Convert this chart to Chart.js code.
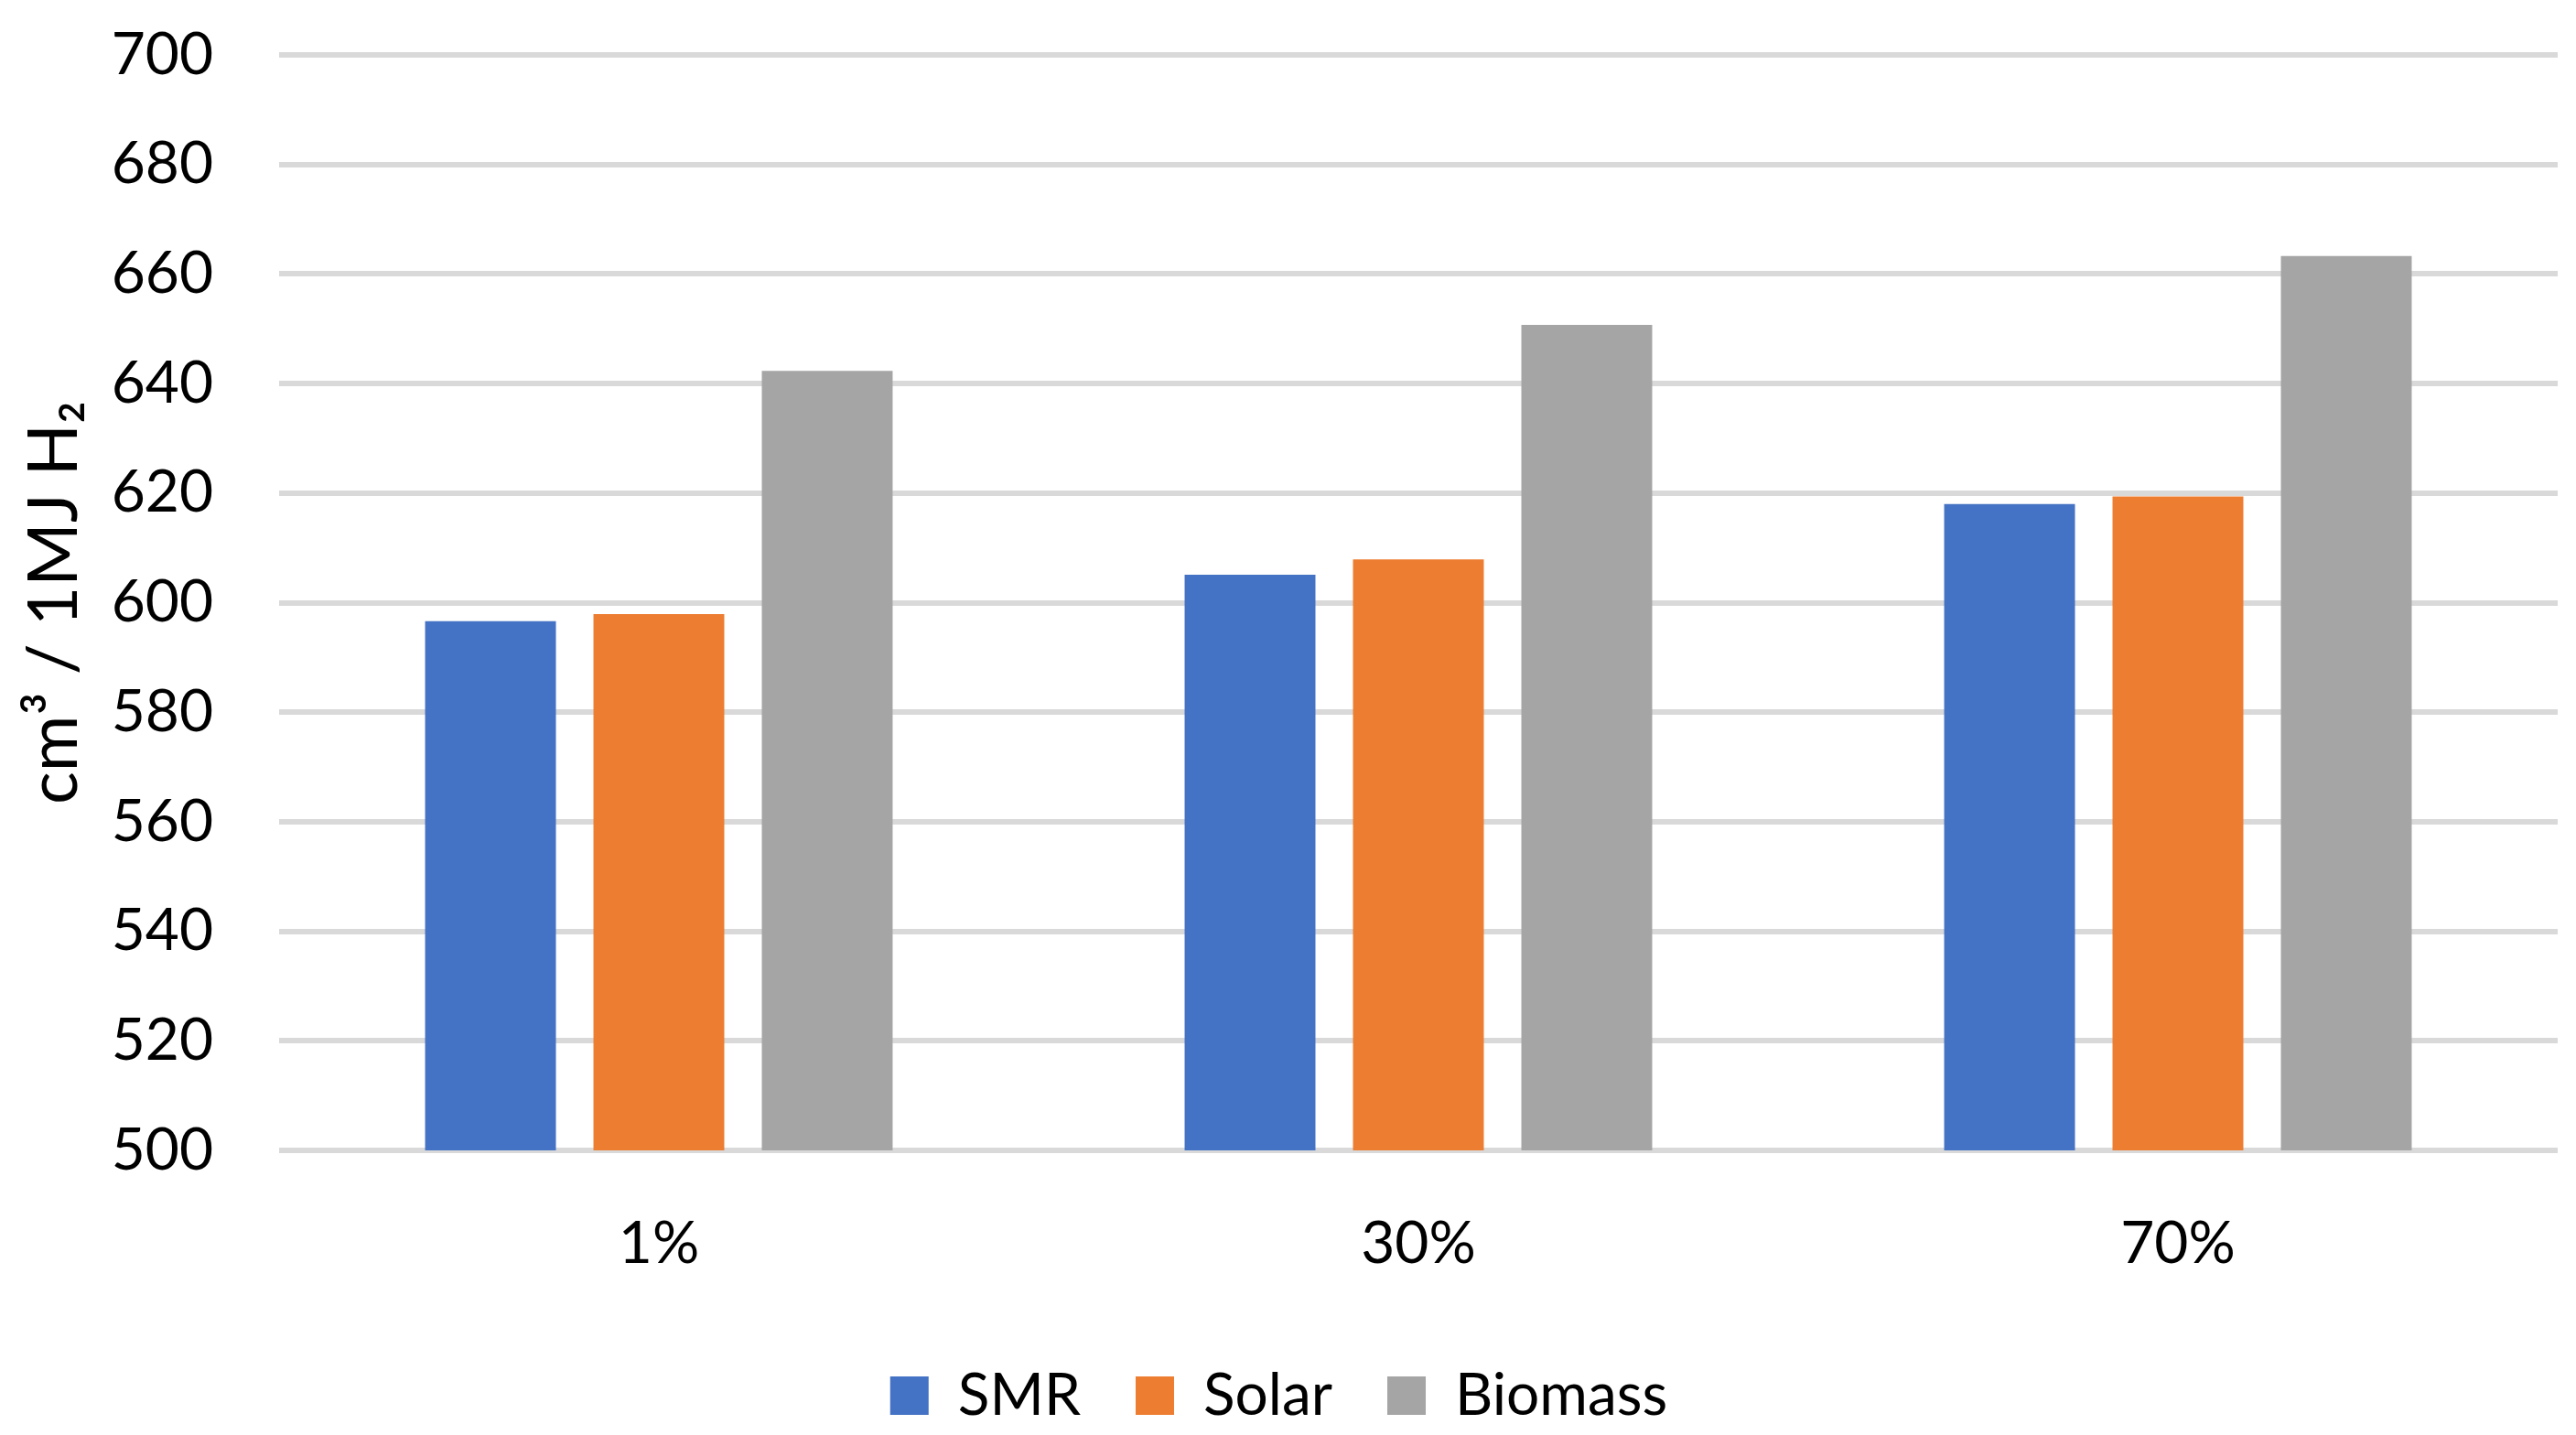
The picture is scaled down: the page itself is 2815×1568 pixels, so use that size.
<!DOCTYPE html>
<html>
<head>
<meta charset="utf-8">
<script src="https://cdn.jsdelivr.net/npm/chart.js@4.4.1/dist/chart.umd.min.js"></script>
<style>
	html, body { margin: 0; padding: 0; background: #fff; }
	#wrap { width: 2815px; height: 1568px; }
</style>
</head>
<body>
<div id="wrap"><canvas id="chart-bar"></canvas></div>
<script>
// Chart data
const CATEGORIES = ["1%", "30%", "70%"];
const SMR = [596.6, 605.1, 618.0];
const SOLAR = [597.9, 607.9, 619.4];
const BIOMASS = [642.3, 650.7, 663.3];
const Y_MIN = 500;
const Y_MAX = 700;
const Y_STEP = 20;

const FONT = "Lato";
const TEXT = "#000000";

const DATA = {
	labels: CATEGORIES,
	datasets: [
		{ label: "SMR", data: SMR, backgroundColor: "#4472C4" },
		{ label: "Solar", data: SOLAR, backgroundColor: "#ED7D31" },
		{ label: "Biomass", data: BIOMASS, backgroundColor: "#A5A5A5" },
	],
};

const CONFIG = {
	type: "bar",
	data: DATA,
	options: {
		responsive: true,
		maintainAspectRatio: false,
		animation: false,
		devicePixelRatio: 1,
		datasets: {
			bar: {
				categoryPercentage: 0.665,
				barPercentage: 0.777,
				borderWidth: 0,
			},
		},
		layout: {
			padding: { top: 60, right: 20, bottom: 1, left: 0 },
		},
		plugins: {
			legend: {
				position: "bottom",
				labels: {
					boxWidth: 42,
					boxHeight: 42,
					padding: 60,
					color: TEXT,
					font: { family: FONT, size: 64 },
				},
			},
			tooltip: { enabled: false },
		},
		scales: {
			x: {
				border: { display: false },
				grid: { display: false, drawTicks: false },
				ticks: {
					color: TEXT,
					padding: 64,
					font: { family: FONT, size: 64 },
				},
				afterFit: (scale) => { scale.height = 176; },
			},
			y: {
				min: Y_MIN,
				max: Y_MAX,
				border: { display: false },
				grid: { color: "#D9D9D9", lineWidth: 6, drawTicks: false },
				ticks: {
					stepSize: Y_STEP,
					color: TEXT,
					padding: 72,
					font: { family: FONT, size: 64 },
				},
				title: {
					display: true,
					text: "cm\u00B3 / 1MJ H\u2082",
					color: TEXT,
					padding: { top: 15, bottom: 0 },
					font: { family: FONT, size: 75 },
				},
				afterFit: (scale) => {
					scale.width = 305;
					// tick padding should not push the plot top down
					scale.paddingTop = 0;
				},
			},
		},
	},
};

new Chart(document.getElementById("chart-bar"), CONFIG);
</script>
</body>
</html>
